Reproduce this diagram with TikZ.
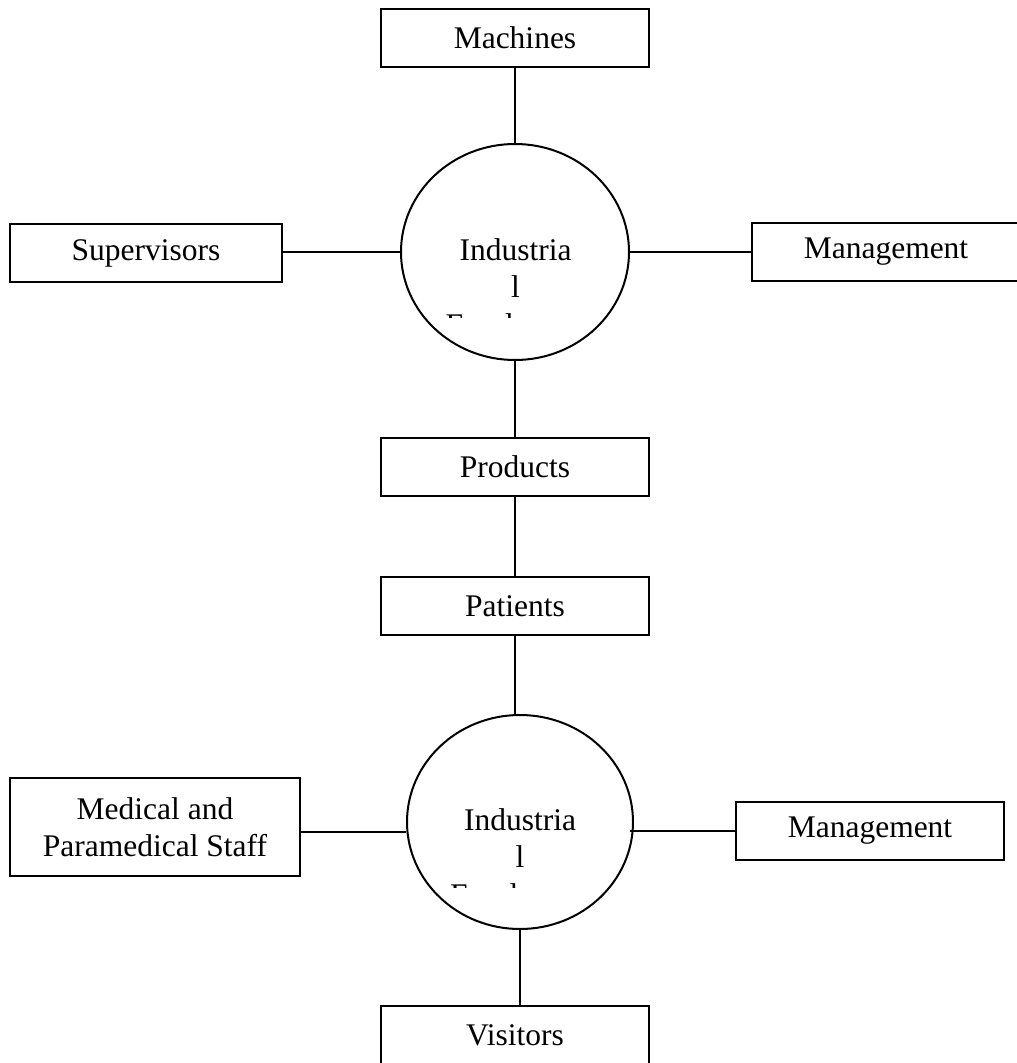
\documentclass[tikz,border=0pt]{standalone}
\usepackage{fontspec}
\setmainfont{Liberation Serif}
\usetikzlibrary{shapes.geometric}
\begin{document}
\begin{tikzpicture}[x=1pt,y=-1pt,line width=2pt,
  txt/.style={font=\fontsize{31.5}{37.5}\selectfont},
  box/.style={draw,rectangle,inner sep=0pt,align=center,txt},
  circ/.style={draw,ellipse,inner sep=0pt},
  lbl/.style={align=center,inner sep=0pt,txt}]
\useasboundingbox (0,0) rectangle (1017,1063);
% top group
\node[box,minimum width=268pt,minimum height=58pt] (mach) at (515,38) {Machines};
\node[box,minimum width=272pt,minimum height=58pt] (sup) at (146,253) {Supervisors};
\node[box,minimum width=268pt,minimum height=58pt] (mg1) at (886,252) {Management};
\node[circ,minimum width=228pt,minimum height=216pt] (c1) at (515,252) {};
\begin{scope}
  \clip (c1.west |- 0,215) rectangle (c1.east |- 0,317);
  \node[lbl] (t1) at (515.5,290) {Industria\\l\\Employees};
\end{scope}
\node[box,minimum width=268pt,minimum height=58pt] (prod) at (515,467) {Products};
\node[box,minimum width=268pt,minimum height=58pt] (pat) at (515,606) {Patients};
% bottom group
\node[circ,minimum width=226pt,minimum height=214pt] (c2) at (520,822) {};
\begin{scope}
  \clip (c2.west |- 0,785) rectangle (c2.east |- 0,887);
  \node[lbl] (t2) at (520,860) {Industria\\l\\Employees};
\end{scope}
\node[box,minimum width=290pt,minimum height=98pt] (med) at (155,827) {Medical and\\Paramedical Staff};
\node[box,minimum width=268pt,minimum height=58pt] (mg2) at (870,831) {Management};
\node[box,minimum width=268pt,minimum height=58pt] (vis) at (515,1035) {Visitors};
% connectors
\draw (mach.south) -- (c1.north);
\draw (c1.west) -- (c1.west -| sup.east);
\draw (c1.east) -- (c1.east -| mg1.west);
\draw (c1.south) -- (c1.south |- prod.north);
\draw (prod.south) -- (pat.north);
\draw (pat.south) -- (pat.south |- c2.north);
\draw ([yshift=-10pt]c2.west) -- ([yshift=-10pt]c2.west -| med.east);
\draw (mg2.west) -- ([xshift=-4pt]mg2.west -| c2.east);
\draw (c2.south) -- (c2.south |- vis.north);
\end{tikzpicture}
\end{document}
